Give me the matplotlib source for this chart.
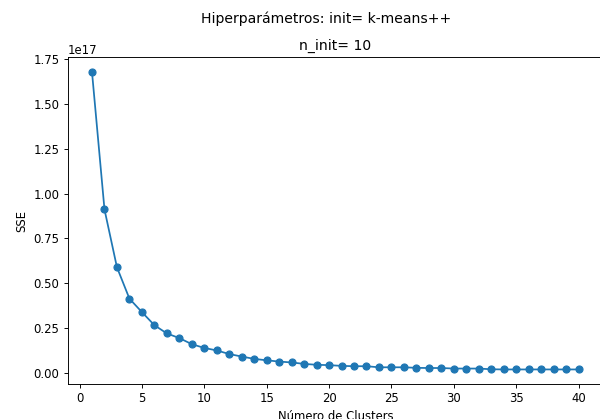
import matplotlib
matplotlib.use("Agg")
import matplotlib.pyplot as plt
import numpy as np

# SSE del codo para k = 1..40
n_clusters = np.arange(1, 41)
sse = np.array([
    1.678, 0.912, 0.589, 0.414, 0.339, 0.266, 0.220, 0.194, 0.160, 0.139,
    0.125, 0.105, 0.091, 0.078, 0.070, 0.063, 0.058, 0.050, 0.045, 0.043,
    0.039, 0.037, 0.037, 0.031, 0.031, 0.031, 0.028, 0.027, 0.027, 0.024,
    0.024, 0.024, 0.020, 0.019, 0.019, 0.019, 0.019, 0.019, 0.019, 0.019,
]) * 1e17

fig = plt.figure(figsize=(600 / 84, 419 / 84), dpi=84)
ax = fig.add_axes([0.1128, 0.0828, 0.892, 0.7804])
ax.plot(n_clusters, sse, marker="o")
ax.set_xlabel("Número de Clusters")
ax.set_ylabel("SSE")
ax.set_title("n_init= 10")
fig.suptitle("Hiperparámetros: init= k-means++", x=0.543, y=0.972)

fig.savefig("out.png", dpi=84)
